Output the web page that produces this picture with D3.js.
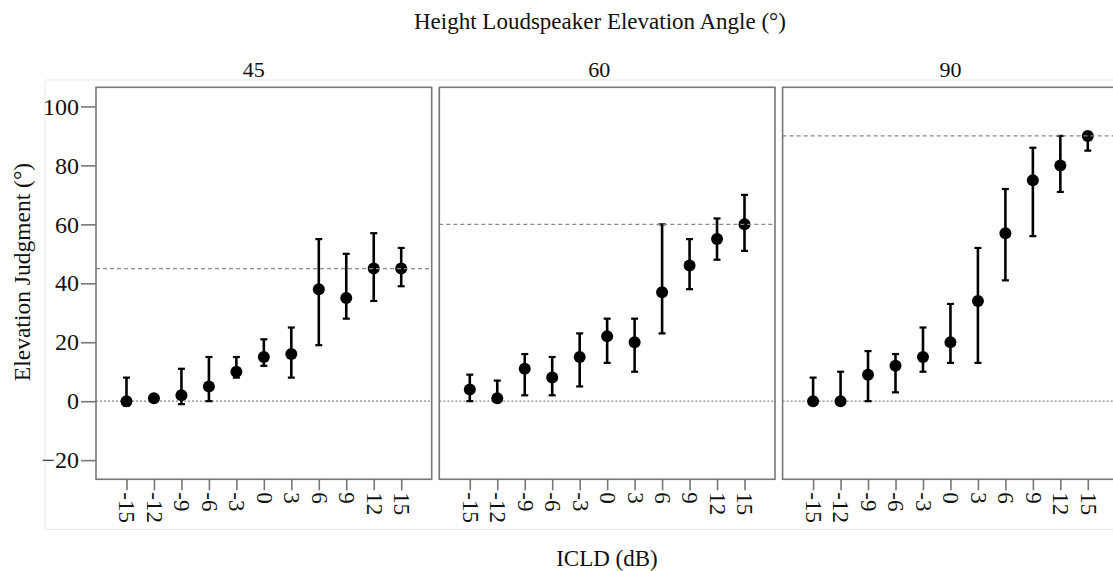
<!DOCTYPE html>
<html>
<head>
<meta charset="utf-8">
<script src="https://cdn.jsdelivr.net/npm/d3@7"></script>
<style>
  body { margin: 0; background: #fff; }
  text { font-family: "Liberation Serif", "Times New Roman", serif; fill: #111; }
</style>
</head>
<body>
<svg id="chart"></svg>
<script>
const icld = [-15, -12, -9, -6, -3, 0, 3, 6, 9, 12, 15];
const angles = [45, 60, 90];
const yTicks = [-20, 0, 20, 40, 60, 80, 100];

const mean45 = [0, 1, 2, 5, 10, 15, 16, 38, 35, 45, 45];
const low45 = [-1.5, 0.5, -1, 0, 8, 12, 8, 19, 28, 34, 39];
const high45 = [8, 1.5, 11, 15, 15, 21, 25, 55, 50, 57, 52];

const mean60 = [4, 1, 11, 8, 15, 22, 20, 37, 46, 55, 60];
const low60 = [0, 0, 2, 2, 5, 13, 10, 23, 38, 48, 51];
const high60 = [9, 7, 16, 15, 23, 28, 28, 60, 55, 62, 70];

const mean90 = [0, 0, 9, 12, 15, 20, 34, 57, 75, 80, 90];
const low90 = [0, 0, 0, 3, 10, 13, 13, 41, 56, 71, 85];
const high90 = [8, 10, 17, 16, 25, 33, 52, 72, 86, 90, 90];

const means = [mean45, mean60, mean90];
const lows = [low45, low60, low90];
const highs = [high45, high60, high90];

const width = 1113;
const height = 571;
const panelWidth = 335.7;
const panelStep = 343.3;
const firstLeft = 96;
const panelTop = 87.3;
const panelBottom = 479.3;
const frameColor = "#777";
const labelShift = [-10, -8, 0];

const svg = d3.select("#chart")
  .attr("width", width)
  .attr("height", height);

svg.append("rect")
  .attr("width", width)
  .attr("height", height)
  .attr("fill", "#fff");

// faint outer frame
svg.append("path")
  .attr("d", `M${width},80H45V529.5H${width}`)
  .attr("fill", "none")
  .attr("stroke", "#e8e8e8")
  .attr("stroke-width", 1);

const yScale = d3.scaleLinear()
  .domain([-26.5, 106.5])
  .range([panelBottom, panelTop]);

angles.forEach((angle, p) => {
  const left = firstLeft + p * panelStep;
  const g = svg.append("g");

  const xScale = d3.scalePoint()
    .domain(icld)
    .range([left, left + panelWidth])
    .padding(1.11);

  // zero line (under the marks)
  g.append("line")
    .attr("x1", left)
    .attr("x2", left + panelWidth)
    .attr("y1", yScale(0))
    .attr("y2", yScale(0))
    .attr("stroke", "#888")
    .attr("stroke-width", 1.3)
    .attr("stroke-dasharray", "2,2");

  const rows = icld.map((d, i) => ({
    x: d, mean: means[p][i], low: lows[p][i], high: highs[p][i]
  }));

  // error bars
  g.selectAll(".bar")
    .data(rows)
    .enter().append("line")
    .attr("class", "bar")
    .attr("x1", d => xScale(d.x))
    .attr("x2", d => xScale(d.x))
    .attr("y1", d => yScale(d.low))
    .attr("y2", d => yScale(d.high))
    .attr("stroke", "#000")
    .attr("stroke-width", 2.6);

  ["low", "high"].forEach(k => {
    g.selectAll(`.cap-${k}`)
      .data(rows)
      .enter().append("line")
      .attr("class", `cap-${k}`)
      .attr("x1", d => xScale(d.x) - 3.5)
      .attr("x2", d => xScale(d.x) + 3.5)
      .attr("y1", d => yScale(d[k]))
      .attr("y2", d => yScale(d[k]))
      .attr("stroke", "#000")
      .attr("stroke-width", 2.2);
  });

  g.selectAll(".dot")
    .data(rows)
    .enter().append("circle")
    .attr("class", "dot")
    .attr("cx", d => xScale(d.x))
    .attr("cy", d => yScale(d.mean))
    .attr("r", 6)
    .attr("fill", "#000");

  // target elevation line (over the marks)
  g.append("line")
    .attr("x1", left)
    .attr("x2", left + panelWidth)
    .attr("y1", yScale(angle))
    .attr("y2", yScale(angle))
    .attr("stroke", "#8a8a8a")
    .attr("stroke-width", 1.3)
    .attr("stroke-dasharray", "4,3");

  g.append("rect")
    .attr("x", left)
    .attr("y", panelTop)
    .attr("width", panelWidth)
    .attr("height", panelBottom - panelTop)
    .attr("fill", "none")
    .attr("stroke", frameColor)
    .attr("stroke-width", 1.6);

  const xAxis = g.append("g")
    .attr("transform", `translate(0, ${panelBottom})`)
    .call(d3.axisBottom(xScale).tickSize(11).tickSizeOuter(0));

  xAxis.select(".domain").remove();
  xAxis.selectAll(".tick line")
    .attr("stroke", frameColor)
    .attr("stroke-width", 1.6);
  xAxis.selectAll(".tick text")
    .attr("x", 0)
    .attr("y", 0)
    .attr("dy", "0.33em")
    .attr("transform", "translate(0, 13) rotate(90)")
    .attr("text-anchor", "start")
    .style("font-size", "23px")
    .style("font-family", "'Liberation Serif', serif")
    .attr("fill", "#111");

  svg.append("text")
    .attr("x", left + panelWidth / 2 + labelShift[p])
    .attr("y", 77)
    .attr("text-anchor", "middle")
    .style("font-size", "22px")
    .text(angle);
});

// y axis on the first panel
const yAxis = svg.append("g")
  .attr("transform", `translate(${firstLeft}, 0)`)
  .call(d3.axisLeft(yScale).tickValues(yTicks).tickSize(15).tickSizeOuter(0));

yAxis.select(".domain").remove();
yAxis.selectAll(".tick line")
  .attr("stroke", frameColor)
  .attr("stroke-width", 1.6);
yAxis.selectAll(".tick text")
  .attr("x", -17)
  .style("font-size", "24px")
  .style("font-family", "'Liberation Serif', serif")
  .attr("fill", "#111");

svg.append("text")
  .attr("x", 600)
  .attr("y", 29)
  .attr("text-anchor", "middle")
  .style("font-size", "23px")
  .text("Height Loudspeaker Elevation Angle (°)");

svg.append("text")
  .attr("transform", "translate(30, 272) rotate(-90)")
  .attr("text-anchor", "middle")
  .style("font-size", "23.5px")
  .text("Elevation Judgment (°)");

svg.append("text")
  .attr("x", 607)
  .attr("y", 566)
  .attr("text-anchor", "middle")
  .style("font-size", "23px")
  .text("ICLD (dB)");
</script>
</body>
</html>
